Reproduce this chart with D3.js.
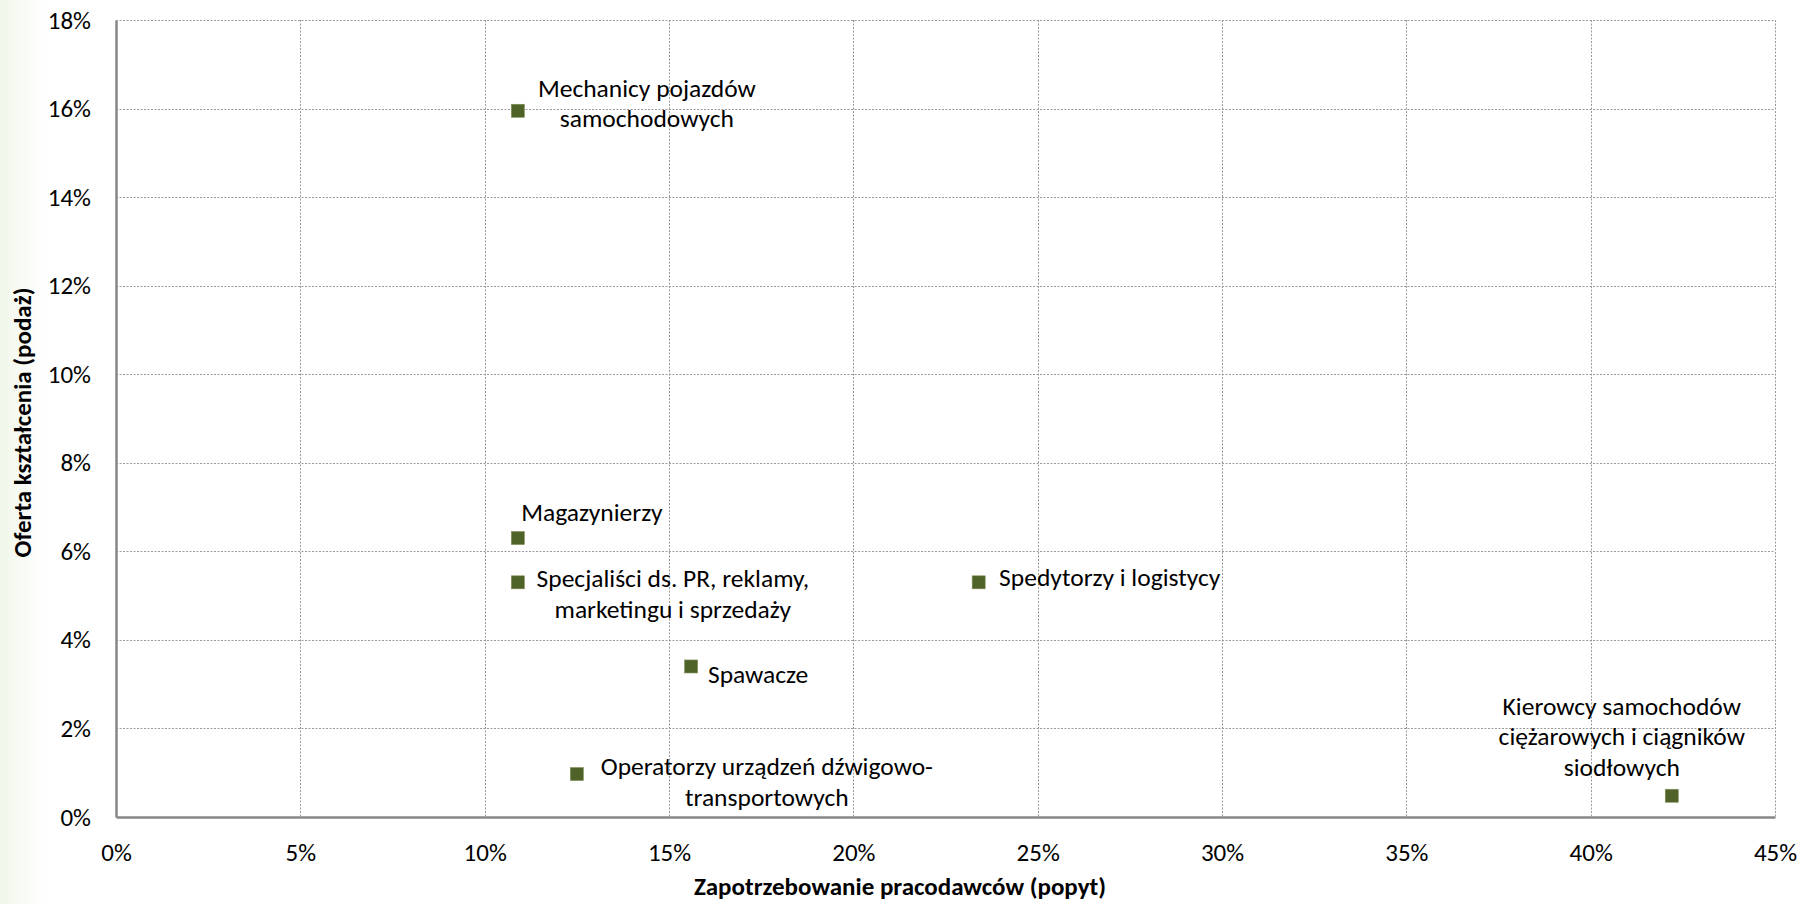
<!DOCTYPE html>
<html lang="pl">
<head>
<meta charset="utf-8">
<script src="https://cdn.jsdelivr.net/npm/d3@7/dist/d3.min.js"></script>
<style>
  html, body { margin: 0; padding: 0; background: #ffffff; }
  svg { display: block; }
  text { font-family: Carlito, Calibri, Lato, "Open Sans", sans-serif; fill: #000; }
</style>
</head>
<body>
<svg id="chart" width="1800" height="904"></svg>
<script>
// Occupations and their demand (employers) vs supply (education offer) shares
const occupations = [
  "Mechanicy pojazdów samochodowych",
  "Magazynierzy",
  "Specjaliści ds. PR, reklamy, marketingu i sprzedaży",
  "Spawacze",
  "Operatorzy urządzeń dźwigowo-transportowych",
  "Spedytorzy i logistycy",
  "Kierowcy samochodów ciężarowych i ciągników siodłowych"
];
const demand = [0.109, 0.109, 0.109, 0.156, 0.125, 0.234, 0.422];
const supply = [0.1595, 0.063, 0.053, 0.034, 0.0097, 0.053, 0.0048];

// Label text broken into lines
const labelLines = [
  ["Mechanicy pojazdów", "samochodowych"],
  ["Magazynierzy"],
  ["Specjaliści ds. PR, reklamy,", "marketingu i sprzedaży"],
  ["Spawacze"],
  ["Operatorzy urządzeń dźwigowo-", "transportowych"],
  ["Spedytorzy i logistycy"],
  ["Kierowcy samochodów", "ciężarowych i ciągników", "siodłowych"]
];
// Label placement relative to its point: [centre dx, first baseline dy]
const labelOffsets = [[129, -14], [74, -17], [155, 5], [67, 17], [190, 1], [131, 4], [-50, -81]];

const xTicks = [0, 0.05, 0.10, 0.15, 0.20, 0.25, 0.30, 0.35, 0.40, 0.45];
const yTicks = [0, 0.02, 0.04, 0.06, 0.08, 0.10, 0.12, 0.14, 0.16, 0.18];
const xTitle = "Zapotrzebowanie pracodawców (popyt)";
const yTitle = "Oferta kształcenia (podaż)";

const svg = d3.select("#chart");
const W = 1800, H = 904;
const plot = { left: 116, right: 1775, top: 20, bottom: 817 };

const x = d3.scaleLinear().domain([0, 0.45]).range([plot.left, plot.right]);
const y = d3.scaleLinear().domain([0, 0.18]).range([plot.bottom, plot.top]);
const pct = d3.format(".0%");

// faint tint along the left edge of the chart area
const defs = svg.append("defs");
const grad = defs.append("linearGradient").attr("id", "edge").attr("x1", 0).attr("x2", 1);
grad.append("stop").attr("offset", 0).attr("stop-color", "#f1f7ea");
grad.append("stop").attr("offset", 1).attr("stop-color", "#ffffff");
svg.append("rect").attr("x", 0).attr("y", 0).attr("width", 45).attr("height", H).attr("fill", "url(#edge)");

// dotted gridlines
const grid = svg.append("g").attr("stroke", "#9a9a9a").attr("stroke-width", 1).attr("stroke-dasharray", "2,1.5");
grid.selectAll("line.h").data(yTicks.filter(d => d > 0)).join("line")
  .attr("x1", plot.left).attr("x2", plot.right)
  .attr("y1", d => Math.round(y(d)) + 0.5).attr("y2", d => Math.round(y(d)) + 0.5);
grid.selectAll("line.v").data(xTicks.filter(d => d > 0)).join("line")
  .attr("y1", plot.top).attr("y2", plot.bottom)
  .attr("x1", d => Math.round(x(d)) + 0.5).attr("x2", d => Math.round(x(d)) + 0.5);

// axes
const xAxis = svg.append("g").attr("transform", `translate(0,${plot.bottom})`)
  .call(d3.axisBottom(x).tickValues(xTicks).tickFormat(pct).tickSize(0).tickPadding(26));
const yAxis = svg.append("g").attr("transform", `translate(${plot.left},0)`)
  .call(d3.axisLeft(y).tickValues(yTicks).tickFormat(pct).tickSize(0).tickPadding(25));
[xAxis, yAxis].forEach(g => {
  g.select(".domain").attr("stroke", "#878787").attr("stroke-width", 2.5);
  g.selectAll("text").style("font-size", "25px").attr("fill", "#000");
});

// axis titles
svg.append("text")
  .attr("x", 900).attr("y", 895)
  .attr("text-anchor", "middle")
  .style("font-size", "25px").style("font-weight", "bold")
  .text(xTitle);
svg.append("text")
  .attr("transform", `translate(31,${(plot.top + plot.bottom) / 2 + 4}) rotate(-90)`)
  .attr("text-anchor", "middle")
  .style("font-size", "25px").style("font-weight", "bold")
  .text(yTitle);

// points
const pts = occupations.map((name, i) => ({ name, dx: demand[i], sy: supply[i], lines: labelLines[i], off: labelOffsets[i] }));
const size = 13;
svg.append("g").selectAll("rect").data(pts).join("rect")
  .attr("x", d => x(d.dx) - size / 2).attr("y", d => y(d.sy) - size / 2)
  .attr("width", size).attr("height", size)
  .attr("fill", "#4f6228").attr("stroke", "#7d8f55").attr("stroke-width", 0.6);

// data labels
const lab = svg.append("g").selectAll("text").data(pts).join("text")
  .attr("text-anchor", "middle")
  .style("font-size", "25.5px")
  .attr("x", d => x(d.dx) + d.off[0])
  .attr("y", d => y(d.sy) + d.off[1]);
lab.selectAll("tspan").data(d => d.lines.map((t, k) => ({ t, k, cx: x(d.dx) + d.off[0] }))).join("tspan")
  .attr("x", s => s.cx)
  .attr("dy", s => s.k === 0 ? 0 : 30.5)
  .text(s => s.t);
</script>
</body>
</html>
